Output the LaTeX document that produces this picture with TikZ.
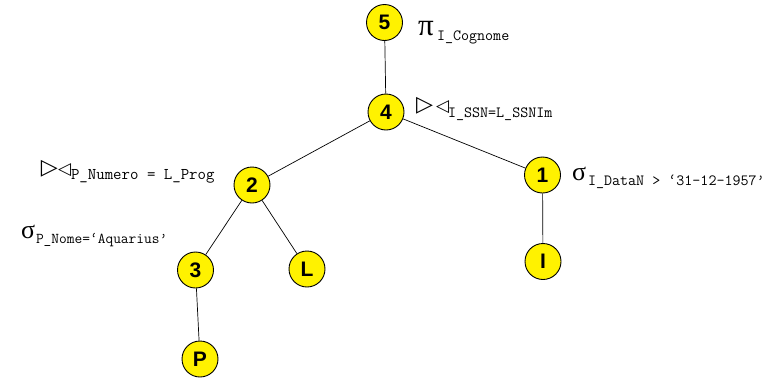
\documentclass[tikz,border=0pt]{standalone}
\usepackage{fontspec}
\setmainfont{Liberation Sans}
\newfontfamily\greekfnt{Liberation Serif}
\newfontfamily\symfnt{DejaVu Sans}
\begin{document}
\begin{tikzpicture}[x=1pt,y=-1pt,
  opnode/.style={circle,draw=black,line width=0.9pt,fill=yellow,minimum size=36pt,inner sep=0pt,
    font=\fontsize{21}{21}\selectfont\bfseries},
  edge/.style={draw=black,line width=0.7pt},
  lbl/.style={anchor=base west,inner sep=0pt,outer sep=0pt},
  bigtri/.style={lbl,font=\symfnt\fontsize{22}{22}\selectfont},
  smalltri/.style={lbl,font=\symfnt\fontsize{17}{17}\selectfont},
  sig/.style={lbl,font=\greekfnt\fontsize{26}{26}\selectfont},
  sub/.style={anchor=base west,inner sep=0pt,outer sep=0pt,font=\ttfamily\fontsize{15.6}{15.6}\selectfont}
]
\useasboundingbox (0,0) rectangle (772,381);
\node[opnode] (n5) at (384.5,22.5) {5};
\node[opnode] (n4) at (386,112) {4};
\node[opnode] (n2) at (252,185) {2};
\node[opnode] (n1) at (542.5,175) {1};
\node[opnode] (n3) at (195.5,270) {3};
\node[opnode] (nL) at (307,269) {L};
\node[opnode] (nI) at (543,261.5) {I};
\node[opnode] (nP) at (200,359) {P};

\draw[edge] (n5) -- (n4);
\draw[edge] (n4) -- (n2);
\draw[edge] (n4) -- (n1);
\draw[edge] (n2) -- (n3);
\draw[edge] (n2) -- (nL);
\draw[edge] (n1) -- (nI);
\draw[edge] (n3) -- (nP);

% labels
\node[lbl,font=\greekfnt\fontsize{31}{31}\selectfont] (pi5) at (418,35) {π};
\node[sub] (pi5s) at (437,40) {I\_Cognome};

\node[bigtri] (j4a) at (416,111) {▷};
\node[smalltri] (j4b) at (436,111) {◁};
\node[sub] (j4s) at (448,117) {I\_SSN=L\_SSNIm};

\node[bigtri] (j2a) at (41,174) {▷};
\node[smalltri] (j2b) at (58,174) {◁};
\node[sub,font=\ttfamily\fontsize{16.4}{16.4}\selectfont] (j2s) at (71,179) {P\_Numero = L\_Prog};

\node[sig] (s1) at (572,180) {σ};
\node[sub] (s1s) at (588,185) {I\_DataN > ‘31-12-1957’};

\node[sig] (s3) at (21,238) {σ};
\node[sub,font=\ttfamily\fontsize{15}{15}\selectfont] (s3s) at (36,243) {P\_Nome=‘Aquarius’};
\end{tikzpicture}
\end{document}
